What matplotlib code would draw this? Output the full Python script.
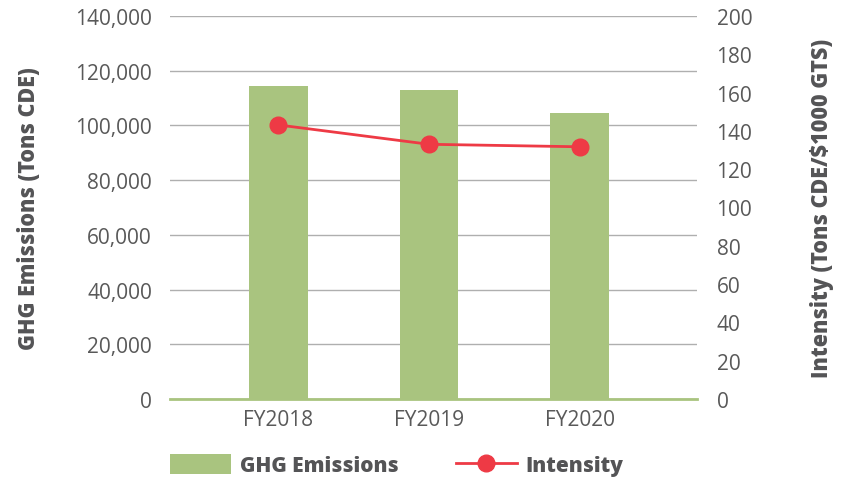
#!/usr/bin/env python3

import matplotlib.pyplot as plt
from matplotlib.lines import Line2D
from matplotlib.patches import Patch
from matplotlib.ticker import FuncFormatter

plt.rcParams["font.family"] = ["Open Sans", "DejaVu Sans"]

YEARS = ["FY2018", "FY2019", "FY2020"]
GHG_EMISSIONS = [114500, 112900, 104500]
INTENSITY = [143.1, 133.0, 131.7]

BAR_COLOR = "#A9C47F"
LINE_COLOR = "#EE3A45"
GRID_COLOR = "#AFAFAF"
TEXT_COLOR = "#595959"
LABEL_COLOR = "#545456"


def main() -> None:
    fig = plt.figure(figsize=(8.48, 4.81), dpi=100)
    ax = fig.add_axes([0.2005, 0.1684, 0.6215, 0.7963])
    ax2 = ax.twinx()

    x = list(range(len(YEARS)))
    ax.bar(x, GHG_EMISSIONS, width=0.39, color=BAR_COLOR, edgecolor="none", zorder=2)

    ax.set_ylim(0, 140000)
    ax.set_yticks(range(0, 140001, 20000))
    ax.yaxis.set_major_formatter(FuncFormatter(lambda v, _: f"{int(v):,}"))
    ax.set_xlim(-0.72, 2.78)
    ax.set_xticks(x)
    ax.set_xticklabels(YEARS)
    ax.grid(True, axis="y", color=GRID_COLOR, linewidth=1.0, zorder=0)
    ax.set_axisbelow(True)

    ax2.plot(x, INTENSITY, color=LINE_COLOR, linewidth=2.0, marker="o",
             markersize=12, zorder=3)
    ax2.set_ylim(0, 200)
    ax2.set_yticks(range(0, 201, 20))

    for a in (ax, ax2):
        for side in ("top", "left", "right", "bottom"):
            a.spines[side].set_visible(False)
        a.tick_params(length=0, labelsize=15, labelcolor=TEXT_COLOR)
    ax.axhline(0, color=BAR_COLOR, linewidth=2.0, zorder=4, clip_on=False)
    ax.tick_params(axis="y", pad=13)
    ax.tick_params(axis="x", pad=7)
    ax2.tick_params(axis="y", pad=14)

    ax.set_ylabel("GHG Emissions (Tons CDE)", fontsize=15.5, fontweight="heavy",
                  color=LABEL_COLOR)
    ax.yaxis.set_label_coords(-0.245, 0.5)
    ax2.set_ylabel("Intensity (Tons CDE/$1000 GTS)", fontsize=15.5, fontweight="heavy",
                   color=LABEL_COLOR)
    ax2.yaxis.set_label_coords(1.2144, 0.5)

    handles = [
        Patch(facecolor=BAR_COLOR, edgecolor="none", label="GHG Emissions"),
        Line2D([0], [0], color=LINE_COLOR, linewidth=2.0, marker="o",
               markersize=12, label="Intensity"),
    ]
    fig.legend(handles=handles, loc="center left", bbox_to_anchor=(0.2005, 0.031),
               ncol=2, frameon=False, handlelength=2.95, handleheight=1.1,
               columnspacing=2.75, handletextpad=0.4, borderpad=0,
               borderaxespad=0,
               prop={"size": 15, "weight": "heavy"}, labelcolor=LABEL_COLOR)

    fig.savefig("out.png", dpi=100)
    plt.close(fig)


if __name__ == "__main__":
    main()
